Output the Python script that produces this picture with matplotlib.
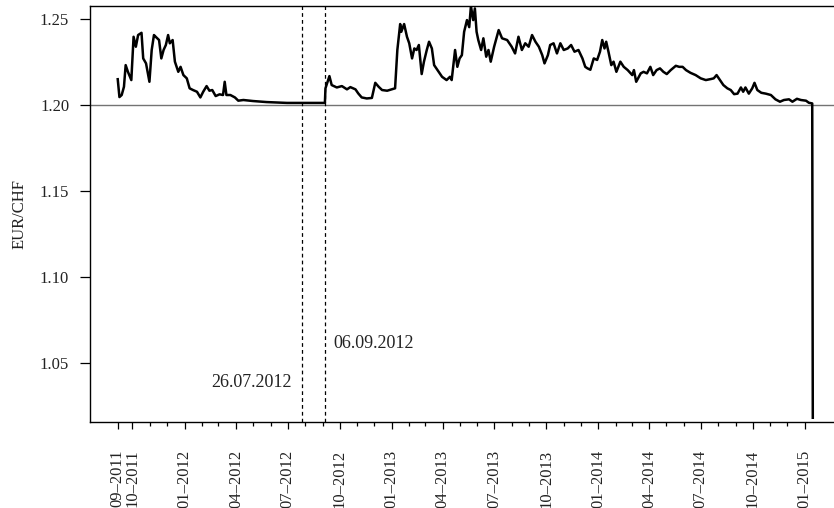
import numpy as np
import pandas as pd
import matplotlib
matplotlib.use("Agg")
import matplotlib.pyplot as plt

plt.rcParams['font.family'] = ['Liberation Serif', 'DejaVu Serif']

# EUR/CHF, values
dates = [
    "2011-09-05", "2011-09-08", "2011-09-12", "2011-09-16", "2011-09-19", "2011-09-23",
    "2011-09-29", "2011-10-03", "2011-10-07", "2011-10-11", "2011-10-17", "2011-10-20",
    "2011-10-25", "2011-10-31", "2011-11-04", "2011-11-08", "2011-11-11", "2011-11-17",
    "2011-11-21", "2011-11-25", "2011-11-29", "2011-12-03", "2011-12-06", "2011-12-11",
    "2011-12-15", "2011-12-21", "2011-12-25", "2011-12-30", "2012-01-05", "2012-01-10",
    "2012-01-16", "2012-01-23", "2012-01-29", "2012-02-03", "2012-02-09", "2012-02-14",
    "2012-02-19", "2012-02-25", "2012-03-03", "2012-03-09", "2012-03-12", "2012-03-15",
    "2012-03-22", "2012-03-30", "2012-04-05", "2012-04-14", "2012-05-01", "2012-05-25",
    "2012-06-30", "2012-08-04", "2012-09-05", "2012-09-06", "2012-09-13", "2012-09-17",
    "2012-09-26", "2012-10-05", "2012-10-14", "2012-10-20", "2012-10-29", "2012-11-03",
    "2012-11-09", "2012-11-18", "2012-11-27", "2012-12-03", "2012-12-09", "2012-12-15",
    "2012-12-24", "2013-01-01", "2013-01-07", "2013-01-11", "2013-01-16", "2013-01-18",
    "2013-01-23", "2013-01-28", "2013-02-01", "2013-02-06", "2013-02-10", "2013-02-14",
    "2013-02-18", "2013-02-23", "2013-02-27", "2013-03-04", "2013-03-08", "2013-03-13",
    "2013-03-17", "2013-03-23", "2013-03-31", "2013-04-08", "2013-04-14", "2013-04-17",
    "2013-04-23", "2013-04-27", "2013-05-01", "2013-05-05", "2013-05-09", "2013-05-14",
    "2013-05-18", "2013-05-21", "2013-05-25", "2013-05-28", "2013-05-31", "2013-06-03",
    "2013-06-08", "2013-06-12", "2013-06-17", "2013-06-21", "2013-06-25", "2013-07-01",
    "2013-07-09", "2013-07-15", "2013-07-24", "2013-08-01", "2013-08-07", "2013-08-13",
    "2013-08-19", "2013-08-25", "2013-08-31", "2013-09-06", "2013-09-12", "2013-09-18",
    "2013-09-24", "2013-09-28", "2013-10-04", "2013-10-08", "2013-10-14", "2013-10-20",
    "2013-10-26", "2013-11-01", "2013-11-08", "2013-11-14", "2013-11-20", "2013-11-27",
    "2013-12-04", "2013-12-09", "2013-12-13", "2013-12-18", "2013-12-24", "2013-12-30",
    "2014-01-04", "2014-01-08", "2014-01-12", "2014-01-15", "2014-01-19", "2014-01-24",
    "2014-01-28", "2014-02-02", "2014-02-09", "2014-02-15", "2014-02-22", "2014-03-02",
    "2014-03-05", "2014-03-09", "2014-03-17", "2014-03-22", "2014-03-28", "2014-04-03",
    "2014-04-08", "2014-04-14", "2014-04-20", "2014-04-26", "2014-05-02", "2014-05-09",
    "2014-05-18", "2014-05-24", "2014-05-30", "2014-06-05", "2014-06-13", "2014-06-22",
    "2014-07-01", "2014-07-10", "2014-07-19", "2014-07-24", "2014-07-29", "2014-08-04",
    "2014-08-10", "2014-08-17", "2014-08-23", "2014-08-29", "2014-09-04", "2014-09-10",
    "2014-09-14", "2014-09-18", "2014-09-24", "2014-09-30", "2014-10-04", "2014-10-09",
    "2014-10-16", "2014-10-24", "2014-11-02", "2014-11-10", "2014-11-18", "2014-11-25",
    "2014-12-04", "2014-12-10", "2014-12-18", "2014-12-25", "2015-01-03", "2015-01-08",
    "2015-01-14", "2015-01-15",
]
eurchf = [
    1.2150, 1.2046, 1.2058, 1.2106, 1.2232, 1.2193,
    1.2145, 1.2397, 1.2339, 1.2407, 1.2420, 1.2271,
    1.2242, 1.2135, 1.2320, 1.2407, 1.2397, 1.2378,
    1.2271, 1.2320, 1.2349, 1.2407, 1.2359, 1.2378,
    1.2252, 1.2193, 1.2222, 1.2174, 1.2155, 1.2097,
    1.2087, 1.2077, 1.2044, 1.2077, 1.2110, 1.2083,
    1.2087, 1.2052, 1.2062, 1.2058, 1.2135, 1.2058,
    1.2058, 1.2044, 1.2025, 1.2029, 1.2023, 1.2017,
    1.2012, 1.2012, 1.2012, 1.2097, 1.2168, 1.2116,
    1.2102, 1.2110, 1.2091, 1.2104, 1.2091, 1.2067,
    1.2044, 1.2038, 1.2041, 1.2129, 1.2106, 1.2087,
    1.2083, 1.2091, 1.2097, 1.2320, 1.2471, 1.2426,
    1.2471, 1.2397, 1.2359, 1.2271, 1.2329, 1.2320,
    1.2349, 1.2180, 1.2252, 1.2320, 1.2368, 1.2329,
    1.2232, 1.2203, 1.2164, 1.2145, 1.2164, 1.2145,
    1.2320, 1.2222, 1.2271, 1.2290, 1.2426, 1.2494,
    1.2453, 1.2575, 1.2494, 1.2562, 1.2426, 1.2378,
    1.2320, 1.2388, 1.2281, 1.2320, 1.2252, 1.2339,
    1.2436, 1.2388, 1.2378, 1.2339, 1.2300, 1.2397,
    1.2320, 1.2359, 1.2339, 1.2407, 1.2368, 1.2339,
    1.2290, 1.2242, 1.2290, 1.2349, 1.2359, 1.2300,
    1.2359, 1.2320, 1.2329, 1.2349, 1.2310, 1.2320,
    1.2271, 1.2222, 1.2213, 1.2205, 1.2271, 1.2262,
    1.2310, 1.2378, 1.2329, 1.2368, 1.2310, 1.2232,
    1.2252, 1.2193, 1.2252, 1.2222, 1.2203, 1.2174,
    1.2203, 1.2135, 1.2184, 1.2193, 1.2184, 1.2222,
    1.2174, 1.2203, 1.2213, 1.2193, 1.2180, 1.2203,
    1.2228, 1.2222, 1.2222, 1.2203, 1.2187, 1.2174,
    1.2155, 1.2145, 1.2151, 1.2155, 1.2174, 1.2145,
    1.2116, 1.2097, 1.2087, 1.2063, 1.2066, 1.2102,
    1.2077, 1.2102, 1.2066, 1.2097, 1.2129, 1.2087,
    1.2071, 1.2066, 1.2058, 1.2033, 1.2019, 1.2029,
    1.2033, 1.2019, 1.2036, 1.2029, 1.2025, 1.2013,
    1.2009, 1.0180,
]

floor_level = 1.20
event_dates = ["2012-07-26", "2012-09-06"]
event_labels = ["26.07.2012", "06.09.2012"]
event_label_y = [1.0387, 1.0614]

tick_dates = ["2011-09-05", "2011-10-01", "2012-01-01", "2012-04-01", "2012-07-01",
              "2012-10-01", "2013-01-01", "2013-04-01", "2013-07-01", "2013-10-01",
              "2014-01-01", "2014-04-01", "2014-07-01", "2014-10-01", "2015-01-01"]
tick_labels = ["09–2011", "10–2011", "01–2012", "04–2012", "07–2012", "10–2012",
               "01–2013", "04–2013", "07–2013", "10–2013", "01–2014", "04–2014",
               "07–2014", "10–2014", "01–2015"]
y_ticks = [1.05, 1.10, 1.15, 1.20, 1.25]


def main():
    x = pd.to_datetime(dates)

    fig = plt.figure(figsize=(8.34, 5.08), dpi=100)
    ax = fig.add_axes([90 / 834, 86.3 / 508, 746 / 834, 415.7 / 508])

    ax.axhline(floor_level, color="0.45", lw=1.0, zorder=1)
    for d in event_dates:
        ax.axvline(pd.Timestamp(d), color="black", lw=0.9, ls=(0, (3, 2.5)), zorder=1)

    ax.plot(x, eurchf, color="black", lw=1.8, zorder=3)

    # labels of the two dashed lines
    ax.annotate(event_labels[0], (pd.Timestamp(event_dates[0]), event_label_y[0]),
                xytext=(-7, 0), textcoords="offset points", ha="right", va="center",
                fontsize=13, color="#222222")
    ax.annotate(event_labels[1], (pd.Timestamp(event_dates[1]), event_label_y[1]),
                xytext=(6, 0), textcoords="offset points", ha="left", va="center",
                fontsize=13, color="#222222")

    ax.set_xlim(pd.Timestamp("2011-07-18"), pd.Timestamp("2015-02-25"))
    ax.set_ylim(1.0157, 1.2576)

    ax.set_xticks(pd.to_datetime(tick_dates))
    ax.set_xticklabels(tick_labels, rotation=90)
    minor = pd.date_range("2011-11-01", "2015-01-01", freq="MS")
    ax.set_xticks(minor, minor=True)

    ax.set_yticks(y_ticks)
    ax.set_yticklabels(["%.2f" % v for v in y_ticks])
    ax.set_ylabel("EUR/CHF", fontsize=12, color="#222222", labelpad=9)

    ax.tick_params(axis="x", which="major", length=5, width=0.9, pad=15,
                   labelsize=12, labelcolor="#222222")
    ax.tick_params(axis="x", which="minor", length=3, width=0.9)
    ax.tick_params(axis="y", length=7, width=0.9, pad=8, labelsize=12,
                   labelcolor="#222222")

    ax.spines["right"].set_visible(False)
    for s in ["left", "top", "bottom"]:
        ax.spines[s].set_linewidth(1.0)

    fig.savefig("out.png", dpi=100)


if __name__ == "__main__":
    main()
